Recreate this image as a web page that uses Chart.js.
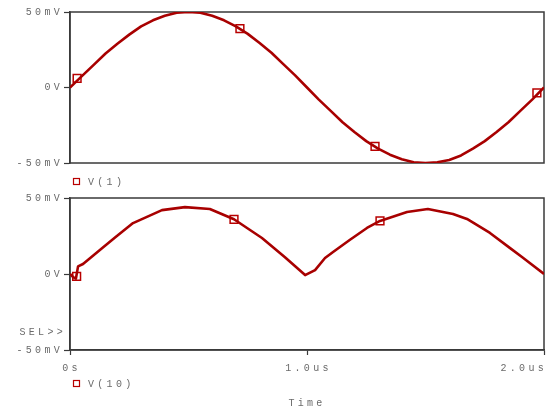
<!DOCTYPE html>
<html>
<head>
<meta charset="utf-8">
<script src="https://cdn.jsdelivr.net/npm/chart.js@4/dist/chart.umd.min.js"></script>
<style>
  html, body { margin: 0; padding: 0; background: #fff; overflow: hidden; }
  #top { position: absolute; left: 0; top: 0; width: 547px; height: 190px; }
  #bot { position: absolute; left: 0; top: 190px; width: 547px; height: 222px; }
</style>
</head>
<body>
<div id="top"><canvas id="c1"></canvas></div>
<div id="bot"><canvas id="c2"></canvas></div>
<script>
// Time axis (microseconds)
const xTickValues = [0, 1, 2];
const xTickLabels = ['0s', '1.0us', '2.0us'];
// Voltage axis (millivolts)
const yTickValues = [-50, 0, 50];
const yTickLabels = ['-50mV', '0V', '50mV'];

// V(1) trace
const v1Time = [0, 0.05, 0.1, 0.15, 0.2, 0.25, 0.3, 0.35, 0.4, 0.45, 0.5, 0.55, 0.6, 0.65, 0.7, 0.75, 0.8, 0.85, 0.9, 0.95,
                1.0, 1.05, 1.1, 1.15, 1.2, 1.25, 1.3, 1.35, 1.4, 1.45, 1.5, 1.55, 1.6, 1.65, 1.7, 1.75, 1.8, 1.85, 1.9, 1.95, 2.0];
const v1Values = [0, 7.5, 15, 22.5, 29, 35, 40.5, 44.5, 47.5, 49.5, 50, 49.5, 47.5, 44.5, 40.5, 35.5, 29.5, 23, 15.5, 8,
                  0, -8, -15.5, -23, -29.5, -35.5, -40.5, -44.5, -47.5, -49.5, -50, -49.5, -48, -45, -40.5, -35.5, -29.5, -23, -15.5, -8, 0];
const v1MarkTime = [0.03, 0.717, 1.287, 1.97];
const v1MarkValues = [6, 39, -39, -3.5];

// V(10) trace
const v10Time = [0, 0.013, 0.025, 0.034, 0.055, 0.135, 0.19, 0.266, 0.388, 0.485, 0.59, 0.692, 0.81, 0.907, 0.992,
                 1.034, 1.076, 1.11, 1.18, 1.253, 1.308, 1.422, 1.51, 1.616, 1.675, 1.772, 1.857, 1.907, 2.0];
const v10Values = [0, -2, -3, 5, 6.6, 17, 24, 33.5, 42, 44, 42.8, 36, 23.7, 11, -0.7,
                   2.6, 10.5, 14.5, 22.4, 30.3, 34.9, 40.8, 42.8, 39.5, 36.2, 27, 17, 11.2, 0];
const v10MarkTime = [0.028, 0.692, 1.308];
const v10MarkValues = [-1.5, 36, 35];

const TRACE = '#a80000';
const MARK = '#b80000';
const AXIS = '#3a3a3a';
const TEXT = '#6a6a6a';
const FONT = { family: 'Liberation Mono', size: 10 };

Chart.defaults.font = FONT;
Chart.defaults.color = TEXT;

const pts = (xs, ys) => xs.map((x, i) => ({ x, y: ys[i] }));

// Monospaced, widely spaced lettering for all canvas text
const spacing = {
  id: 'spacing',
  beforeDraw(chart) { chart.ctx.letterSpacing = '3.3px'; }
};

// Box around the plotting area
const frame = {
  id: 'frame',
  beforeDatasetsDraw(chart) {
    const { ctx, chartArea: a } = chart;
    ctx.save();
    ctx.strokeStyle = AXIS;
    ctx.lineWidth = 1.5;
    ctx.strokeRect(a.left, a.top, a.right - a.left, a.bottom - a.top);
    ctx.restore();
  }
};

// Trace key below each panel
const traceKey = {
  id: 'traceKey',
  afterDraw(chart, args, opts) {
    const { ctx, chartArea: a } = chart;
    const y = opts.y;
    ctx.save();
    ctx.strokeStyle = MARK;
    ctx.lineWidth = 1.2;
    ctx.strokeRect(a.left + 3.5, y - 3.5, 6, 6);
    ctx.fillStyle = TEXT;
    ctx.font = '10px "Liberation Mono"';
    ctx.textAlign = 'left';
    ctx.textBaseline = 'middle';
    ctx.fillText(opts.text, a.left + 18, y);
    ctx.restore();
  }
};

// Time tick labels, kept inside the canvas at the right edge
const timeLabels = {
  id: 'timeLabels',
  afterDraw(chart, args, opts) {
    if (!opts.show) return;
    const { ctx, chartArea: a } = chart;
    const xs = chart.scales.x;
    ctx.save();
    ctx.fillStyle = TEXT;
    ctx.font = '10px "Liberation Mono"';
    ctx.textAlign = 'left';
    ctx.textBaseline = 'middle';
    xTickValues.forEach((v, i) => {
      const txt = xTickLabels[i];
      const w = ctx.measureText(txt).width;
      const px = xs.getPixelForValue(v);
      let left = px - w / 2 + 1.5;
      left = Math.min(left, chart.width - w);
      ctx.fillText(txt, left, a.bottom + 18);
    });
    ctx.restore();
  }
};

// Cursor-selection marker beside the lower panel
const selLabel = {
  id: 'selLabel',
  afterDraw(chart, args, opts) {
    if (!opts.show) return;
    const { ctx, chartArea: a } = chart;
    ctx.save();
    ctx.fillStyle = TEXT;
    ctx.font = '10px "Liberation Mono"';
    ctx.textAlign = 'right';
    ctx.textBaseline = 'middle';
    ctx.fillText('SEL>>', a.left - 4, chart.scales.y.getPixelForValue(-38.5));
    ctx.restore();
  }
};

function yAxis() {
  return {
    type: 'linear',
    min: -50, max: 50,
    afterBuildTicks(s) { s.ticks = yTickValues.map(v => ({ value: v })); },
    ticks: {
      callback: v => yTickLabels[yTickValues.indexOf(v)],
      padding: 1,
      color: TEXT
    },
    grid: { drawOnChartArea: false, drawTicks: true, tickLength: 6, color: AXIS, tickColor: AXIS, tickWidth: 1.2 },
    border: { display: true, color: AXIS, width: 1.5 },
    afterFit(s) { s.width = 70; s.paddingTop = 0; s.paddingBottom = 0; }
  };
}

function datasets(t, v, mt, mv) {
  return [
    {
      data: pts(t, v),
      borderColor: TRACE,
      borderWidth: 2.6,
      pointRadius: 0,
      tension: 0,
      fill: false,
      borderJoinStyle: 'round'
    },
    {
      data: pts(mt, mv),
      showLine: false,
      pointStyle: 'rect',
      pointRadius: 5.5,
      pointBorderWidth: 1.5,
      pointBorderColor: MARK,
      pointBackgroundColor: 'rgba(0,0,0,0)'
    }
  ];
}

const common = {
  responsive: true,
  maintainAspectRatio: false,
  animation: false,
  devicePixelRatio: 1,
  events: []
};

new Chart(document.getElementById('c1'), {
  type: 'line',
  data: { datasets: datasets(v1Time, v1Values, v1MarkTime, v1MarkValues) },
  options: {
    ...common,
    layout: { autoPadding: false, padding: { left: 0, right: 3, top: 12, bottom: 27 } },
    plugins: {
      legend: { display: false }, tooltip: { enabled: false },
      traceKey: { y: 182, text: 'V(1)' },
      timeLabels: { show: false },
      selLabel: { show: false }
    },
    scales: {
      x: {
        type: 'linear', min: 0, max: 2,
        ticks: { display: false }, grid: { display: false }, border: { display: false },
        afterFit(s) { s.height = 0; s.paddingLeft = 0; s.paddingRight = 0; }
      },
      y: yAxis()
    }
  },
  plugins: [spacing, frame, traceKey, timeLabels, selLabel]
});

new Chart(document.getElementById('c2'), {
  type: 'line',
  data: { datasets: datasets(v10Time, v10Values, v10MarkTime, v10MarkValues) },
  options: {
    ...common,
    layout: { autoPadding: false, padding: { left: 0, right: 3, top: 8, bottom: 0 } },
    plugins: {
      legend: { display: false }, tooltip: { enabled: false },
      traceKey: { y: 194, text: 'V(10)' },
      timeLabels: { show: true },
      selLabel: { show: true }
    },
    scales: {
      x: {
        type: 'linear', min: 0, max: 2,
        afterBuildTicks(s) { s.ticks = xTickValues.map(v => ({ value: v })); },
        ticks: { display: false },
        grid: { drawOnChartArea: false, drawTicks: true, tickLength: 5, color: AXIS, tickColor: AXIS, tickWidth: 1.2 },
        border: { display: true, color: AXIS, width: 1.5 },
        title: { display: true, text: 'Time', color: TEXT, padding: { top: 0, bottom: 3 } },
        afterFit(s) { s.height = 62; s.paddingLeft = 0; s.paddingRight = 0; }
      },
      y: yAxis()
    }
  },
  plugins: [spacing, frame, traceKey, timeLabels, selLabel]
});
</script>
</body>
</html>
